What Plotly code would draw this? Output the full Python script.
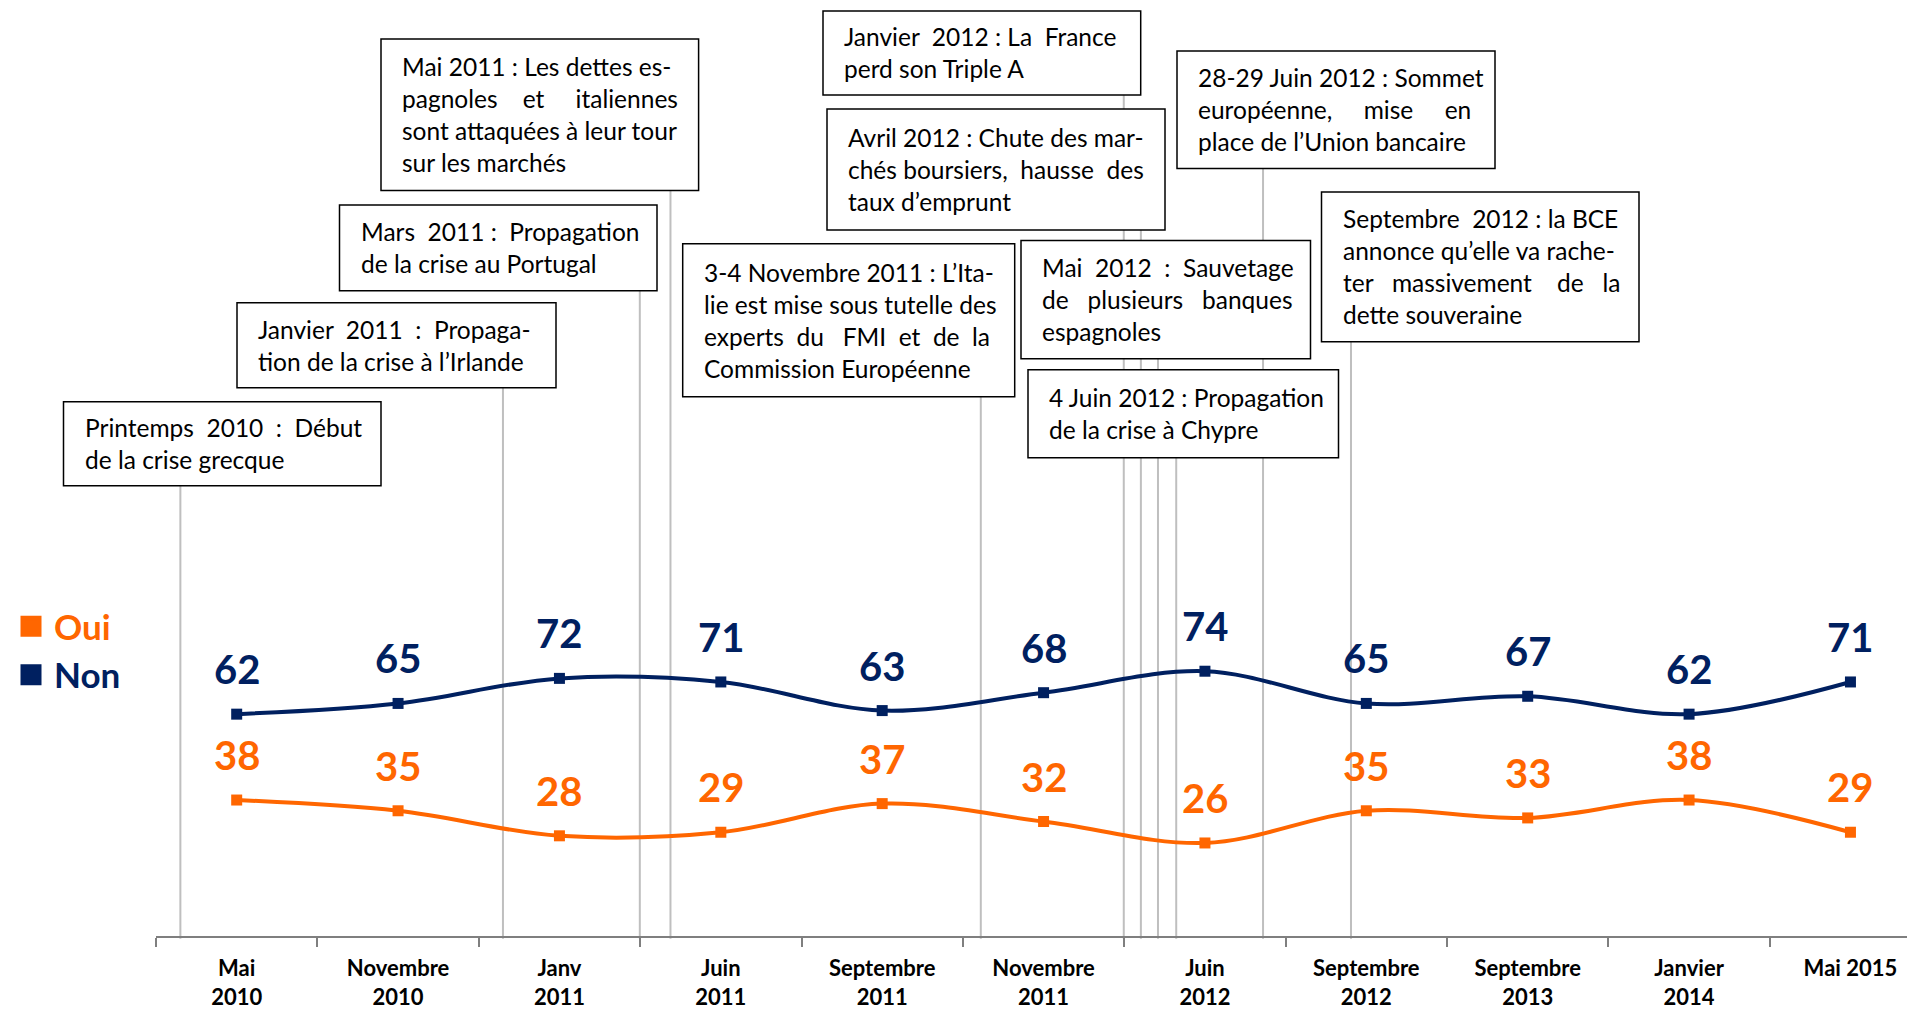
import plotly.graph_objects as go

# ---------------- data ----------------
periods = ["Mai<br>2010", "Novembre<br>2010", "Janv<br>2011", "Juin<br>2011",
           "Septembre<br>2011", "Novembre<br>2011", "Juin<br>2012",
           "Septembre<br>2012", "Septembre<br>2013", "Janvier<br>2014", "Mai 2015"]
oui = [38, 35, 28, 29, 37, 32, 26, 35, 33, 38, 29]
non = [62, 65, 72, 71, 63, 68, 74, 65, 67, 62, 71]

event_texts = [
    "Printemps  2010  :  Début<br>de la crise grecque",
    "Janvier  2011  :  Propaga-<br>tion de la crise à l’Irlande",
    "Mars  2011 :  Propagation<br>de la crise au Portugal",
    "Mai 2011 : Les dettes es-<br>pagnoles    et     italiennes<br>sont attaquées à leur tour<br>sur les marchés",
    "3-4 Novembre 2011 : L’Ita-<br>lie est mise sous tutelle des<br>experts  du   FMI  et  de  la<br>Commission Européenne",
    "Janvier  2012 : La  France<br>perd son Triple A",
    "Avril 2012 : Chute des mar-<br>chés boursiers,  hausse  des<br>taux d’emprunt",
    "Mai  2012  :  Sauvetage<br>de   plusieurs   banques<br>espagnoles",
    "4 Juin 2012 : Propagation<br>de la crise à Chypre",
    "28-29 Juin 2012 : Sommet<br>européenne,     mise     en<br>place de l’Union bancaire",
    "Septembre  2012 : la BCE<br>annonce qu’elle va rache-<br>ter   massivement    de   la<br>dette souveraine",
]
# position of each event on the time axis (in category units)
event_pos = [-0.349, 1.650, 2.498, 2.688, 4.611, 5.497, 5.603, 5.709, 5.822, 6.360, 6.905]

# ---------------- layout helpers ----------------
OFF = 8                      # page body margin
W, H = 1907, 1002
ML, MR, MT, MB = 148, 0, 0, 73.5
PW, PH = W - ML - MR, H - MT - MB
Y_TOP = PH / 3.58            # 3.58 px per percentage point

# boxes: left, top, width, height (page pixels)
boxes = [
    (63.5, 402, 317.5, 84),
    (237, 303, 319, 85),
    (339.5, 205, 317.5, 86),
    (381, 39, 317.6, 151.5),
    (682.7, 244, 332, 153),
    (823, 11, 317.7, 84),
    (827, 109, 338, 121),
    (1021, 240.6, 289.5, 118.4),
    (1028, 370, 310.5, 88),
    (1177, 51, 318, 117.5),
    (1321.5, 192, 317.5, 150),
]

def px_x(p):
    return (p - OFF - ML) / PW

def px_y(p):
    return (H - MB - (p - OFF)) / PH

ORANGE = "#FF6600"
NAVY = "#002060"
FONT = "Lato"

fig = go.Figure()

fig.add_trace(go.Scatter(
    x=periods, y=oui, name="Oui", mode="lines+markers", showlegend=False,
    line=dict(color=ORANGE, width=4, shape="spline", smoothing=1),
    marker=dict(symbol="square", size=11, color=ORANGE),
))
fig.add_trace(go.Scatter(
    x=periods, y=non, name="Non", mode="lines+markers", showlegend=False,
    line=dict(color=NAVY, width=4, shape="spline", smoothing=1),
    marker=dict(symbol="square", size=11, color=NAVY),
))
# legend entries (squares only)
fig.add_trace(go.Scatter(
    x=[None], y=[None], mode="markers",
    name=f"<span style='color:{ORANGE}'>Oui</span>",
    marker=dict(symbol="square", size=16, color=ORANGE, line=dict(color=ORANGE, width=5)),
))
fig.add_trace(go.Scatter(
    x=[None], y=[None], mode="markers",
    name=f"<span style='color:{NAVY}'>Non</span>",
    marker=dict(symbol="square", size=16, color=NAVY, line=dict(color=NAVY, width=5)),
))

annotations = []
for i, v in enumerate(oui):
    annotations.append(dict(x=i, y=v, xref="x", yref="y", text=str(v), showarrow=False,
                            yshift=45, font=dict(family=FONT, size=40, color=ORANGE, weight="bold")))
for i, v in enumerate(non):
    annotations.append(dict(x=i, y=v, xref="x", yref="y", text=str(v), showarrow=False,
                            yshift=45, font=dict(family=FONT, size=40, color=NAVY, weight="bold")))

shapes = []
for (l, t, w, h), pos, txt in zip(boxes, event_pos, event_texts):
    shapes.append(dict(type="line", xref="x", yref="paper", x0=pos, x1=pos,
                       y0=-0.003, y1=px_y(t + h), line=dict(color="#BFBFBF", width=2),
                       layer="below"))
    shapes.append(dict(type="rect", xref="paper", yref="paper",
                       x0=px_x(l), x1=px_x(l + w), y0=px_y(t + h), y1=px_y(t),
                       line=dict(color="black", width=1.5), fillcolor="white", layer="above"))
    annotations.append(dict(xref="paper", yref="paper", x=px_x(l + 19), y=px_y(t + h / 2),
                            xanchor="left", yanchor="middle", align="left", showarrow=False,
                            text=txt, font=dict(family=FONT, size=24.5, color="black")))

fig.update_layout(
    width=W, height=H,
    margin=dict(l=ML, r=MR, t=MT, b=MB),
    paper_bgcolor="white", plot_bgcolor="white",
    showlegend=True,
    legend=dict(xref="container", yref="container", x=0, y=1 - (597 - OFF) / H,
                xanchor="left", yanchor="top", bgcolor="rgba(0,0,0,0)", itemwidth=36,
                font=dict(family=FONT, size=35, weight="bold"), tracegroupgap=0),
    xaxis=dict(type="category", range=[-0.5, 10.4], showgrid=False, zeroline=False,
               showline=True, linecolor="#7F7F7F", linewidth=1.5,
               ticks="outside", tickson="boundaries", ticklen=9, tickcolor="#7F7F7F",
               tickwidth=1.5, ticklabelstandoff=12,
               tickfont=dict(family=FONT, size=22, color="black", weight="bold"),
               automargin=False, fixedrange=True),
    yaxis=dict(range=[0, Y_TOP], visible=False, fixedrange=True),
    shapes=shapes,
    annotations=annotations,
)

fig.write_html("out.html")
